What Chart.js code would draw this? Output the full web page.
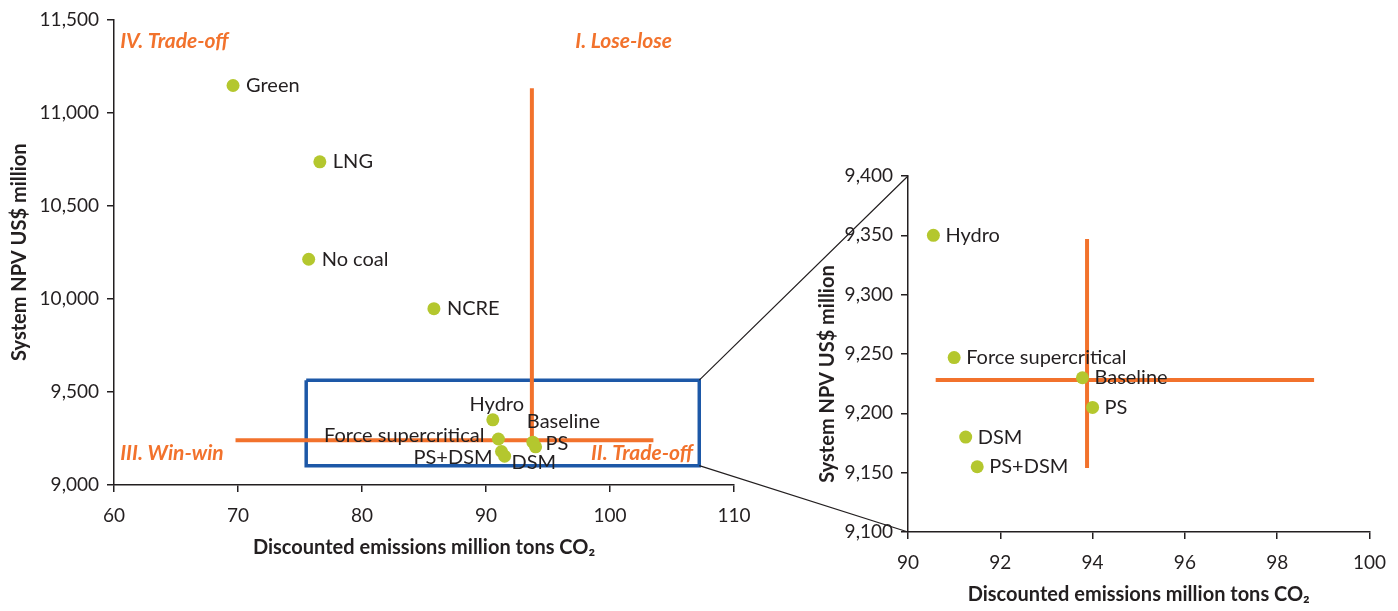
<!DOCTYPE html>
<html>
<head>
<meta charset="utf-8">
<script src="https://cdn.jsdelivr.net/npm/chart.js@4.4.1/dist/chart.umd.min.js"></script>
<style>
  html, body { margin: 0; padding: 0; background: #fff; }
  #wrap { position: relative; width: 1398px; height: 611px; }
  #wrap canvas { position: absolute; left: 0; top: 0; }
</style>
</head>
<body>
<div id="wrap">
  <canvas id="mainChart" width="1398" height="611"></canvas>
  <canvas id="zoomChart" width="1398" height="611"></canvas>
</div>
<script>
// scenario results
const scenarios = ['Green', 'LNG', 'No coal', 'NCRE', 'Hydro', 'Force supercritical', 'Baseline', 'PS', 'DSM', 'PS+DSM'];
const emissions = [69.6, 76.6, 75.7, 85.8, 90.55, 91.0, 93.78, 94.0, 91.25, 91.5];
const npv = [11145, 10735, 10212, 9947, 9350, 9247, 9230, 9205, 9180, 9155];

// axis ticks
const mainXTicks = [60, 70, 80, 90, 100, 110];
const mainYTicks = [9000, 9500, 10000, 10500, 11000, 11500];
const zoomXTicks = [90, 92, 94, 96, 98, 100];
const zoomYTicks = [9100, 9150, 9200, 9250, 9300, 9350, 9400];

// baseline cross, as drawn on each panel
const mainHLineX = [69.8, 103.5];
const mainHLineY = 9240;
const mainVLineX = 93.7;
const mainVLineY = [9240, 11130];
const zoomHLineX = [90.6, 98.8];
const zoomHLineY = 9228;
const zoomVLineX = 93.88;
const zoomVLineY = [9154, 9347];

// zoomed region on the main panel
const zoomBoxX = [75.5, 107.2];
const zoomBoxY = [9104, 9563];

// quadrant names
const quadrantText = ['IV. Trade-off', 'I. Lose-lose', 'III. Win-win', 'II. Trade-off'];
const quadrantX = [60.5, 97.2, 60.5, 106.7];
const quadrantY = [11383, 11383, 9168, 9168];
const quadrantAlign = ['left', 'left', 'left', 'right'];

const FONT = 'Lato, "Noto Sans", sans-serif';
const INK = '#231f20';
const ORANGE = '#f2722c';
const DOT = '#b4c72e';
const BLUE = '#1d58a7';

// label placement on the main panel (align, dx, dy)
const mainLabelPlace = {
    'Green': ['left', 13, 0],
    'LNG': ['left', 13, 0],
    'No coal': ['left', 13, 0],
    'NCRE': ['left', 13, 0],
    'Hydro': ['center', 4, -15],
    'Force supercritical': ['right', -14, -3],
    'Baseline': ['left', -6, -21],
    'PS': ['left', 10, -3],
    'DSM': ['left', 10, 11],
    'PS+DSM': ['right', -12, 1]
};

function pts(xs, ys) {
    return xs.map((x, i) => ({x: x, y: ys[i]}));
}

function lineSet(data, color, width) {
    return {
        data: data,
        showLine: true,
        borderColor: color,
        borderWidth: width,
        pointRadius: 0,
        borderJoinStyle: 'miter',
        borderCapStyle: 'butt'
    };
}

function labelPlugin(names, place) {
    return {
        id: 'pointLabels',
        afterDatasetsDraw(chart) {
            const ctx = chart.ctx;
            const meta = chart.getDatasetMeta(0);
            ctx.save();
            ctx.font = '20px ' + FONT;
            ctx.fillStyle = INK;
            ctx.textBaseline = 'middle';
            meta.data.forEach((el, i) => {
                const p = place(names[i]);
                ctx.textAlign = p[0];
                ctx.fillText(names[i], el.x + p[1], el.y + p[2]);
            });
            ctx.restore();
        }
    };
}

const quadrantPlugin = {
    id: 'quadrants',
    afterDraw(chart) {
        const ctx = chart.ctx;
        ctx.save();
        ctx.font = 'italic bold 21px ' + FONT;
        ctx.fillStyle = ORANGE;
        ctx.textBaseline = 'middle';
        quadrantText.forEach((t, i) => {
            ctx.textAlign = quadrantAlign[i];
            ctx.fillText(t, chart.scales.x.getPixelForValue(quadrantX[i]), chart.scales.y.getPixelForValue(quadrantY[i]));
        });
        ctx.restore();
    }
};

function axis(ticks, min, max, title, fit, titlePad, isX) {
    return {
        type: 'linear',
        min: min,
        max: max,
        afterBuildTicks: s => { s.ticks = ticks.map(v => ({value: v})); },
        afterFit: s => { if (isX) s.height = fit; else s.width = fit; },
        border: {display: true, color: INK, width: 1.5},
        grid: {drawOnChartArea: false, drawTicks: true, tickLength: 7, color: INK, lineWidth: 1.5},
        ticks: {color: INK, font: {family: FONT, size: 19}, padding: isX ? 12 : 8, autoSkip: false, maxRotation: 0},
        title: {display: true, text: title, color: INK, font: {family: FONT, size: 20, weight: 'bold'}, padding: titlePad}
    };
}

const xTitle = 'Discounted emissions million tons CO\u2082';
const yTitle = 'System NPV US$ million';

const mainChart = new Chart(document.getElementById('mainChart'), {
    type: 'scatter',
    data: {
        datasets: [
            {data: pts(emissions, npv), pointRadius: 6.5, backgroundColor: DOT, borderWidth: 0},
            lineSet(pts(mainHLineX, [mainHLineY, mainHLineY]), ORANGE, 4),
            lineSet(pts([mainVLineX, mainVLineX], mainVLineY), ORANGE, 4),
            lineSet(pts([zoomBoxX[0], zoomBoxX[1], zoomBoxX[1], zoomBoxX[0], zoomBoxX[0]],
                        [zoomBoxY[1], zoomBoxY[1], zoomBoxY[0], zoomBoxY[0], zoomBoxY[1]]), BLUE, 3.5)
        ]
    },
    options: {
        responsive: false,
        animation: false,
        events: [],
        layout: {padding: {left: 0, top: 16, right: 664, bottom: 0}},
        plugins: {legend: {display: false}, tooltip: {enabled: false}},
        scales: {
            x: axis(mainXTicks, 60, 110, xTitle, 126, {bottom: 51}, true),
            y: axis(mainYTicks, 9000, 11500, yTitle, 114, {top: 8}, false)
        }
    },
    plugins: [labelPlugin(scenarios, n => mainLabelPlace[n]), quadrantPlugin]
});

// scenarios that fall in the zoomed panel
const zoomIdx = scenarios.map((n, i) => i).filter(i => emissions[i] >= 90 && npv[i] <= 9400);
const zoomNames = zoomIdx.map(i => scenarios[i]);

const connectorPlugin = {
    id: 'connectors',
    afterDraw(chart) {
        const ctx = chart.ctx;
        const mx = mainChart.scales.x, my = mainChart.scales.y;
        const a = chart.chartArea;
        const x0 = mx.getPixelForValue(zoomBoxX[1]);
        ctx.save();
        ctx.strokeStyle = INK;
        ctx.lineWidth = 1.2;
        ctx.beginPath();
        ctx.moveTo(x0, my.getPixelForValue(zoomBoxY[1]));
        ctx.lineTo(a.left, a.top);
        ctx.moveTo(x0, my.getPixelForValue(zoomBoxY[0]));
        ctx.lineTo(a.left, a.bottom);
        ctx.stroke();
        ctx.restore();
    }
};

const zoomChart = new Chart(document.getElementById('zoomChart'), {
    type: 'scatter',
    data: {
        datasets: [
            {data: zoomIdx.map(i => ({x: emissions[i], y: npv[i]})), pointRadius: 6.5, backgroundColor: DOT, borderWidth: 0},
            lineSet(pts(zoomHLineX, [zoomHLineY, zoomHLineY]), ORANGE, 4),
            lineSet(pts([zoomVLineX, zoomVLineX], zoomVLineY), ORANGE, 4)
        ]
    },
    options: {
        responsive: false,
        animation: false,
        events: [],
        layout: {padding: {left: 780, top: 176, right: 24, bottom: 0}},
        plugins: {legend: {display: false}, tooltip: {enabled: false}},
        scales: {
            x: axis(zoomXTicks, 90, 100, xTitle, 79, {bottom: 4}, true),
            // trailing en spaces nudge the centred title down, as in the source
            y: axis(zoomYTicks, 9100, 9400, yTitle + '\u2002\u2002\u2002\u2002', 128, {top: 36}, false)
        }
    },
    plugins: [labelPlugin(zoomNames, () => ['left', 12, 0]), connectorPlugin]
});
</script>
</body>
</html>
